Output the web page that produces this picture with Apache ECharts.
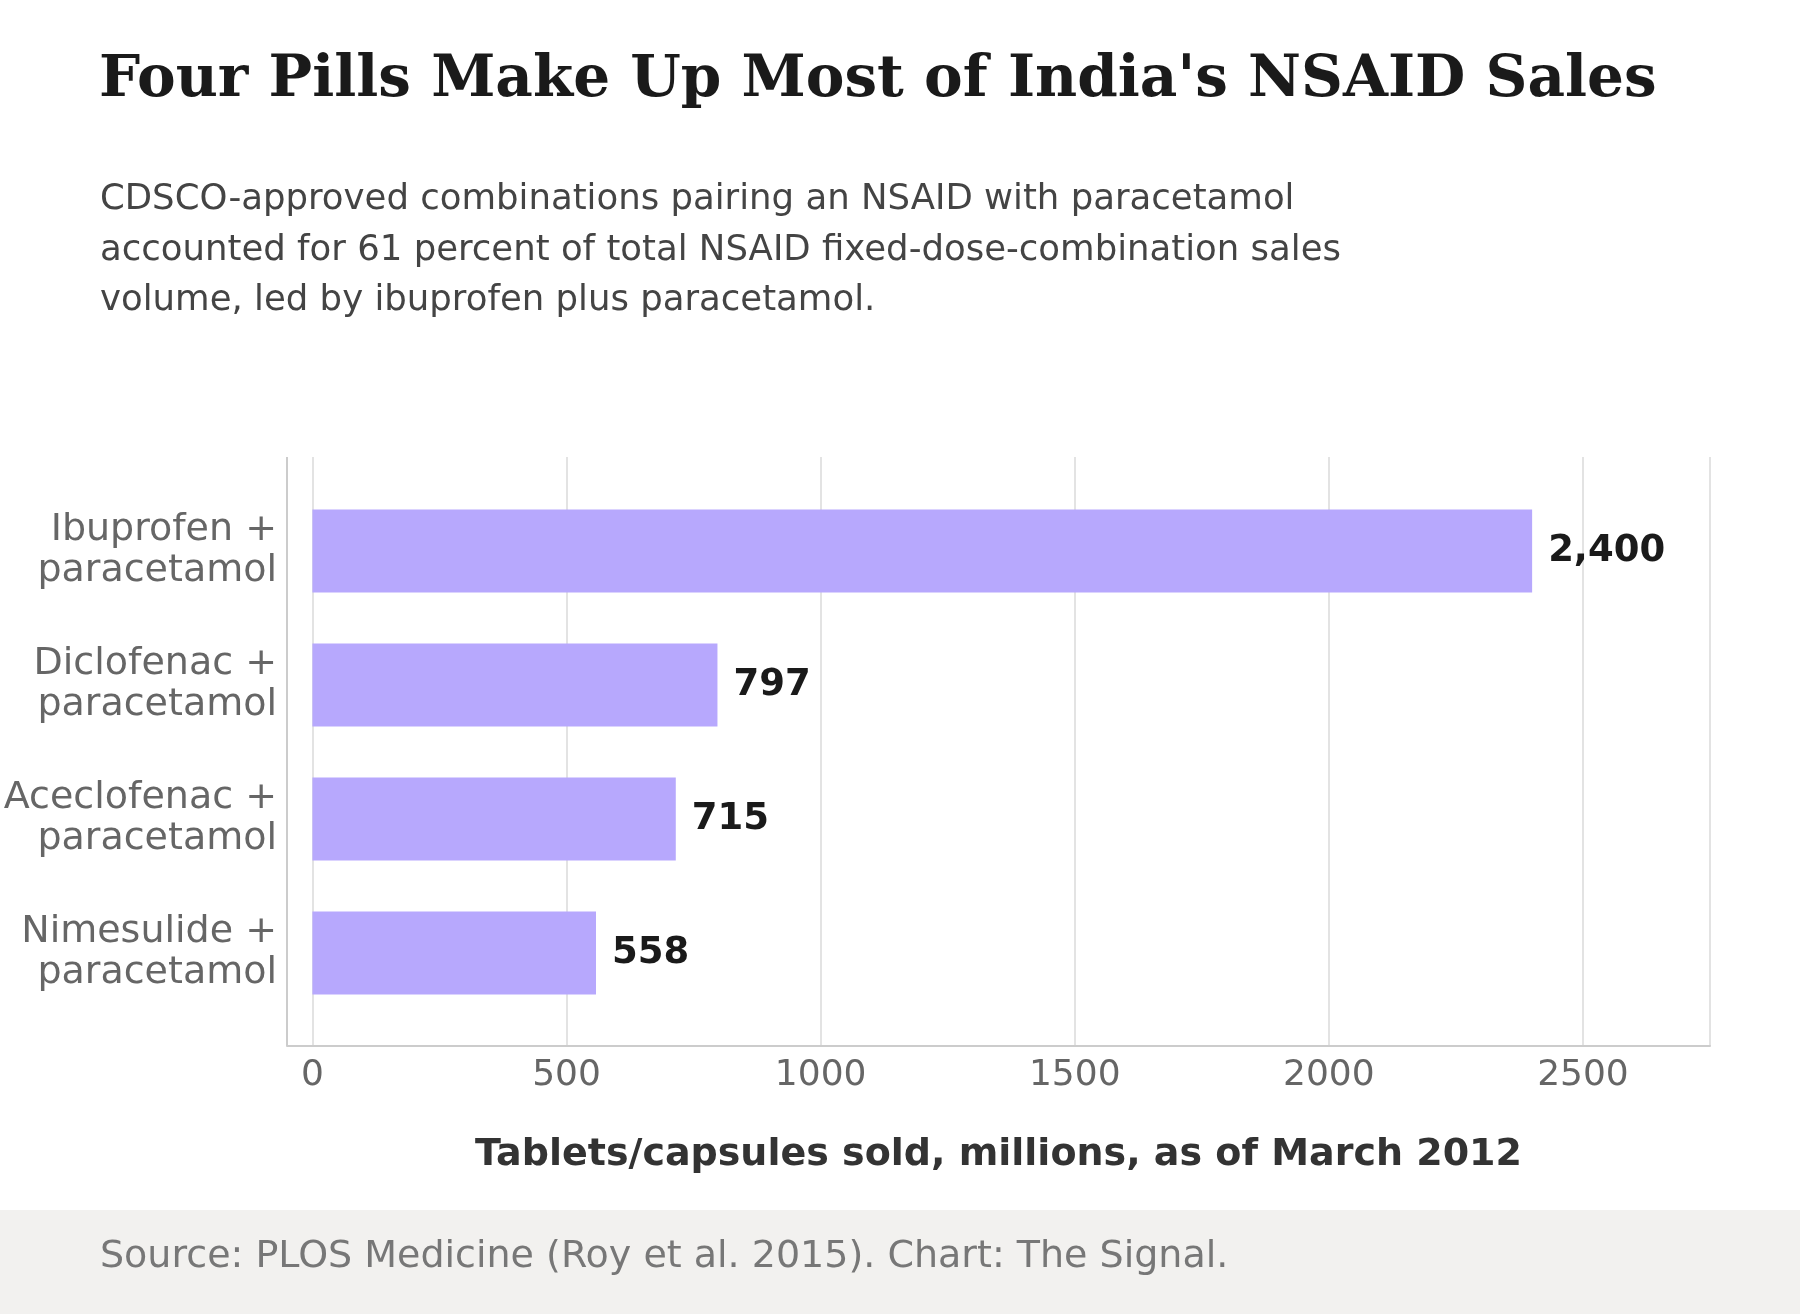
<!DOCTYPE html>
<html><head><meta charset="utf-8">
<script src="https://cdn.jsdelivr.net/npm/echarts@6/dist/echarts.min.js"></script>
<style>html,body{margin:0;padding:0;background:#fff}#c{width:1800px;height:1314px}</style>
</head><body><div id="c"></div>
<script>
const categories = ["Ibuprofen +\nparacetamol","Diclofenac +\nparacetamol","Aceclofenac +\nparacetamol","Nimesulide +\nparacetamol"];
const values = [2400, 797, 715, 558];
const xTicks = [0, 500, 1000, 1500, 2000, 2500];

const chart = echarts.init(document.getElementById('c'));
const F = "DejaVu Sans";
chart.setOption({
  backgroundColor: '#fff',
  animation: false,
  graphic: [
    {type:'rect', shape:{x:0,y:1210,width:1800,height:104}, style:{fill:'#f2f1ef'}},
    {type:'text', left:100, top:1238, style:{text:'Source: PLOS Medicine (Roy et al. 2015). Chart: The Signal.', font:'38px "DejaVu Sans"', fill:'#777'}},
    {type:'text', left:99, top:52, style:{text:"Four Pills Make Up Most of India's NSAID Sales", font:'bold 58px "DejaVu Serif"', fill:'#1a1a1a'}},
    {type:'text', left:100, top:175, style:{text:'CDSCO-approved combinations pairing an NSAID with paracetamol\naccounted for 61 percent of total NSAID fixed-dose-combination sales\nvolume, led by ibuprofen plus paracetamol.', font:'35.5px "DejaVu Sans"', fill:'#444', lineHeight:50.5}},
    {type:'line', shape:{x1:287,y1:457,x2:287,y2:1046}, style:{stroke:'#cccccc', lineWidth:2}}
  ],
  grid: [
    {left:287, right:90, top:484, bottom:1314-1020, containLabel:false},
    {left:312.4, right:90, top:457, bottom:1314-1046, containLabel:false}
  ],
  xAxis: [{
    type:'value', min:-50, max:2750, offset:26, gridIndex:0,
    name:'Tablets/capsules sold, millions, as of March 2012', nameLocation:'middle', nameGap:90,
    nameTextStyle:{fontFamily:F, fontWeight:'bold', fontSize:38, color:'#333'},
    axisLine:{show:true, lineStyle:{color:'#cccccc', width:2}},
    axisTick:{show:false},
    splitLine:{show:false},
    axisLabel:{customValues:xTicks, fontFamily:F, fontSize:36, color:'#666', margin:12, formatter:v=>String(v)}
  },{
    type:'value', min:0, max:2750, interval:500, gridIndex:1,
    axisLine:{show:false}, axisTick:{show:false}, axisLabel:{show:false},
    splitLine:{show:true, lineStyle:{color:'#e3e3e3', width:2}}
  }],
  yAxis: [{
    type:'category', data:categories, inverse:true, gridIndex:0,
    axisLine:{show:false}, axisTick:{show:false},
    axisLabel:{fontFamily:F, fontSize:38, color:'#666', lineHeight:41, margin:10, align:'right'}
  },{
    type:'value', gridIndex:1, min:0, max:1, show:false
  }],
  series: [{
    type:'bar', data:values, barWidth:83, xAxisIndex:0, yAxisIndex:0,
    itemStyle:{color:'#b7a8fd'},
    label:{show:true, position:'right', distance:16, fontFamily:F, fontWeight:'bold', fontSize:37, color:'#1a1a1a',
      formatter:p=>p.value.toLocaleString('en-US')},
    z:2
  },{
    type:'line', data:[], xAxisIndex:1, yAxisIndex:1
  }]
});
</script></body></html>
